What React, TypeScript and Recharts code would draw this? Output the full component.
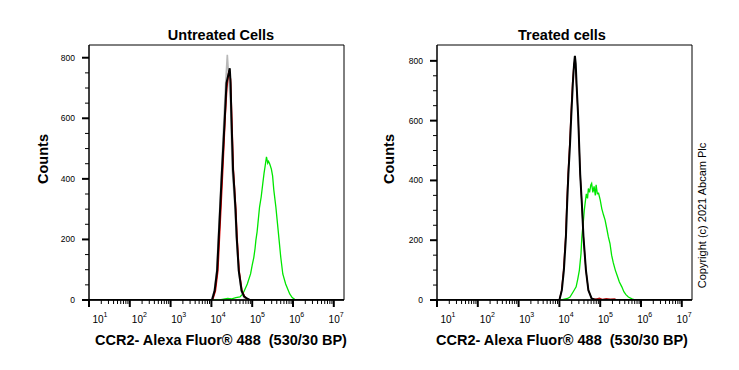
import React from 'react';
import { LineChart, Line, XAxis, YAxis, ReferenceArea } from 'recharts';

// x values are log10 of fluorescence channel (decades), y values are counts
const untreatedGray: [number, number][] = [
  [1, 0], [4.0, 0], [4.07, 30], [4.13, 97], [4.17, 208], [4.21, 318], [4.25, 429], [4.31, 606],
  [4.35, 716], [4.39, 810], [4.42, 745], [4.47, 650], [4.51, 430], [4.58, 300], [4.61, 208],
  [4.67, 97], [4.73, 31], [4.8, 8], [4.9, 0], [7.25, 0],
];
const untreatedRed: [number, number][] = [
  [1, 0], [4.03, 0], [4.1, 30], [4.16, 97], [4.2, 208], [4.24, 318], [4.28, 429], [4.34, 606],
  [4.38, 700], [4.42, 748], [4.44, 758], [4.47, 728], [4.5, 606], [4.54, 430], [4.6, 300],
  [4.63, 208], [4.68, 97], [4.75, 31], [4.82, 10], [4.9, 0], [7.25, 0],
];
const untreatedBlack: [number, number][] = [
  [1, 0], [4.0, 0], [4.02, 2], [4.08, 31], [4.14, 97], [4.18, 208], [4.22, 318], [4.26, 429],
  [4.3, 530], [4.33, 606], [4.37, 716], [4.4, 735], [4.43, 752], [4.45, 765], [4.47, 716],
  [4.49, 606], [4.53, 430], [4.56, 370], [4.59, 300], [4.62, 208], [4.67, 97], [4.74, 31],
  [4.8, 12], [4.87, 5], [4.94, 0], [7.25, 0],
];
const untreatedGreen: [number, number][] = [
  [1, 0], [4.2, 0], [4.3, 3], [4.4, 5], [4.5, 4], [4.6, 8], [4.7, 10], [4.77, 20], [4.82, 35],
  [4.88, 53], [4.96, 86], [5.0, 115], [5.04, 141], [5.07, 170], [5.09, 197], [5.12, 225],
  [5.14, 252], [5.18, 307], [5.22, 340], [5.26, 385], [5.29, 418], [5.32, 445], [5.35, 473],
  [5.38, 452], [5.4, 458], [5.43, 449], [5.47, 432], [5.5, 410], [5.53, 363], [5.58, 307],
  [5.62, 252], [5.66, 197], [5.7, 141], [5.75, 86], [5.82, 53], [5.92, 20], [5.98, 8],
  [6.04, 2], [6.1, 0], [7.25, 0],
];

const treatedRed: [number, number][] = [
  [1, 0], [4.0, 0], [4.05, 30], [4.1, 100], [4.15, 211], [4.18, 323], [4.21, 420], [4.25, 520],
  [4.28, 613], [4.32, 725], [4.35, 780], [4.37, 795], [4.4, 770], [4.42, 715], [4.46, 613],
  [4.51, 420], [4.55, 323], [4.59, 211], [4.65, 100], [4.71, 33], [4.79, 5], [4.9, 3],
  [4.98, 6], [5.05, 2], [5.15, 5], [5.25, 3], [5.35, 4], [5.42, 0], [7.25, 0],
];
const treatedBlack: [number, number][] = [
  [1, 0], [4.0, 0], [4.06, 33], [4.11, 100], [4.16, 211], [4.19, 323], [4.22, 420], [4.26, 520],
  [4.29, 613], [4.33, 725], [4.36, 790], [4.38, 817], [4.4, 790], [4.42, 725], [4.46, 613],
  [4.51, 420], [4.55, 323], [4.59, 211], [4.65, 100], [4.71, 33], [4.79, 5], [4.85, 2],
  [4.95, 0], [7.25, 0],
];
const treatedGreen: [number, number][] = [
  [1, 0], [4.05, 0], [4.2, 5], [4.26, 10], [4.35, 30], [4.41, 44], [4.45, 70], [4.49, 100],
  [4.53, 156], [4.55, 211], [4.59, 267], [4.61, 300], [4.63, 323], [4.66, 355], [4.69, 340],
  [4.71, 373], [4.74, 360], [4.77, 385], [4.79, 390], [4.82, 360], [4.85, 380], [4.88, 350],
  [4.9, 385], [4.93, 355], [4.96, 357], [5.0, 335], [5.04, 305], [5.08, 285], [5.12, 267],
  [5.16, 240], [5.2, 211], [5.24, 189], [5.28, 150], [5.32, 125], [5.37, 100], [5.42, 80],
  [5.47, 60], [5.53, 44], [5.58, 28], [5.63, 18], [5.69, 10], [5.78, 4], [5.86, 0], [7.25, 0],
];

const xDecades = [1, 2, 3, 4, 5, 6, 7];
const minorMultipliers = [2, 3, 4, 5, 6, 7, 8, 9];
const yTicks = [0, 50, 100, 150, 200, 250, 300, 350, 400, 450, 500, 550, 600, 650, 700, 750, 800];
const xMin = 1;
const xMax = 7.25;

const xTicks: number[] = [];
xDecades.forEach((d) => {
  xTicks.push(d);
  minorMultipliers.forEach((m) => {
    const v = d + Math.log10(m);
    if (v <= xMax) xTicks.push(v);
  });
});

const toRows = (pts: [number, number][]) => pts.map(([x, y]) => ({ x, y }));

const FONT = '"Liberation Sans", Arial, sans-serif';

function XTick(props: any) {
  const { x, y, payload } = props;
  const v = payload.value as number;
  const n = Math.round(v);
  const major = Math.abs(v - n) < 1e-6;
  if (!major) {
    return <line x1={x} x2={x} y1={y} y2={y + 4} stroke="#000" strokeWidth={1} />;
  }
  const dx = 11 - 1.45 * (n - 1);
  return (
    <g>
      <line x1={x} x2={x} y1={y} y2={y + 7} stroke="#000" strokeWidth={2} />
      <text x={x + dx} y={y + 23} textAnchor="middle" fontSize={10} fontFamily={FONT} fill="#000">
        10<tspan dy={-6} fontSize={7}>{n}</tspan>
      </text>
    </g>
  );
}

function YTick(props: any) {
  const { x, y, payload } = props;
  const v = payload.value as number;
  const major = v % 200 === 0;
  if (!major) {
    return <line x1={x - 4} x2={x} y1={y} y2={y} stroke="#000" strokeWidth={1} />;
  }
  return (
    <g>
      <line x1={x - 7} x2={x} y1={y} y2={y} stroke="#000" strokeWidth={2} />
      <text x={x - 14} y={y + 3} textAnchor="end" fontSize={8.5} fontFamily={FONT} fill="#000">
        {v}
      </text>
    </g>
  );
}

type Series = { data: [number, number][]; color: string; width: number };

function Panel(props: {
  left: number;
  width: number;
  margin: { top: number; right: number; bottom: number; left: number };
  yMax: number;
  series: Series[];
}) {
  const { left, width, margin, yMax, series } = props;
  return (
    <div style={{ position: 'absolute', left, top: 0 }}>
      <LineChart width={width} height={370} margin={margin}>
        <XAxis
          type="number"
          dataKey="x"
          domain={[xMin, xMax]}
          ticks={xTicks}
          tick={<XTick />}
          tickLine={false}
          tickSize={0}
          tickMargin={0}
          interval={0}
          allowDataOverflow
          height={30}
          axisLine={{ stroke: '#000', strokeWidth: 1.5 }}
        />
        <YAxis
          type="number"
          domain={[0, yMax]}
          ticks={yTicks}
          tick={<YTick />}
          tickLine={false}
          tickSize={0}
          tickMargin={0}
          interval={0}
          allowDataOverflow
          width={40}
          axisLine={{ stroke: '#000', strokeWidth: 1 }}
        />
        <ReferenceArea x1={xMin} x2={xMax} y1={0} y2={yMax} fill="none" stroke="#000" strokeWidth={1} />
        {series.map((s, i) => (
          <Line
            key={i}
            data={toRows(s.data)}
            dataKey="y"
            type="linear"
            stroke={s.color}
            strokeWidth={s.width}
            dot={false}
            activeDot={false}
            isAnimationActive={false}
          />
        ))}
      </LineChart>
    </div>
  );
}

export default function App() {
  return (
    <div style={{ position: 'absolute', left: 0, top: 0, width: 739, height: 370, background: '#fff', overflow: 'hidden' }}>
      <Panel
        left={0}
        width={370}
        margin={{ top: 45, right: 26, bottom: 40, left: 49 }}
        yMax={842}
        series={[
          { data: untreatedGreen, color: '#00e600', width: 1.3 },
          { data: untreatedGray, color: '#b8b8b8', width: 1.6 },
          { data: untreatedRed, color: '#e00000', width: 1.4 },
          { data: untreatedBlack, color: '#000000', width: 2 },
        ]}
      />
      <Panel
        left={370}
        width={369}
        margin={{ top: 45, right: 47, bottom: 40, left: 27 }}
        yMax={853}
        series={[
          { data: treatedGreen, color: '#00e600', width: 1.3 },
          { data: treatedRed, color: '#b01010', width: 1.2 },
          { data: treatedBlack, color: '#000000', width: 2 },
        ]}
      />
      <svg width={739} height={370} style={{ position: 'absolute', left: 0, top: 0, pointerEvents: 'none' }}>
        <g fontFamily={FONT} fill="#000">
          <text x={221} y={40} textAnchor="middle" fontSize={14.5} fontWeight="bold">Untreated Cells</text>
          <text x={562} y={40} textAnchor="middle" fontSize={14.5} fontWeight="bold">Treated cells</text>
          <text transform="translate(42.5,159) rotate(-90)" textAnchor="middle" dominantBaseline="central" fontSize={14.5} fontWeight="bold">Counts</text>
          <text transform="translate(389,159) rotate(-90)" textAnchor="middle" dominantBaseline="central" fontSize={14.5} fontWeight="bold">Counts</text>
          <text x={221} y={345} textAnchor="middle" fontSize={14.5} fontWeight="bold" style={{ whiteSpace: 'pre' }}>{'CCR2- Alexa Fluor\u00AE 488  (530/30 BP)'}</text>
          <text x={562} y={345} textAnchor="middle" fontSize={14.5} fontWeight="bold" style={{ whiteSpace: 'pre' }}>{'CCR2- Alexa Fluor\u00AE 488  (530/30 BP)'}</text>
          <text transform="translate(701.5,215.5) rotate(-90)" textAnchor="middle" dominantBaseline="central" fontSize={11}>Copyright (c) 2021 Abcam Plc</text>
        </g>
      </svg>
    </div>
  );
}
